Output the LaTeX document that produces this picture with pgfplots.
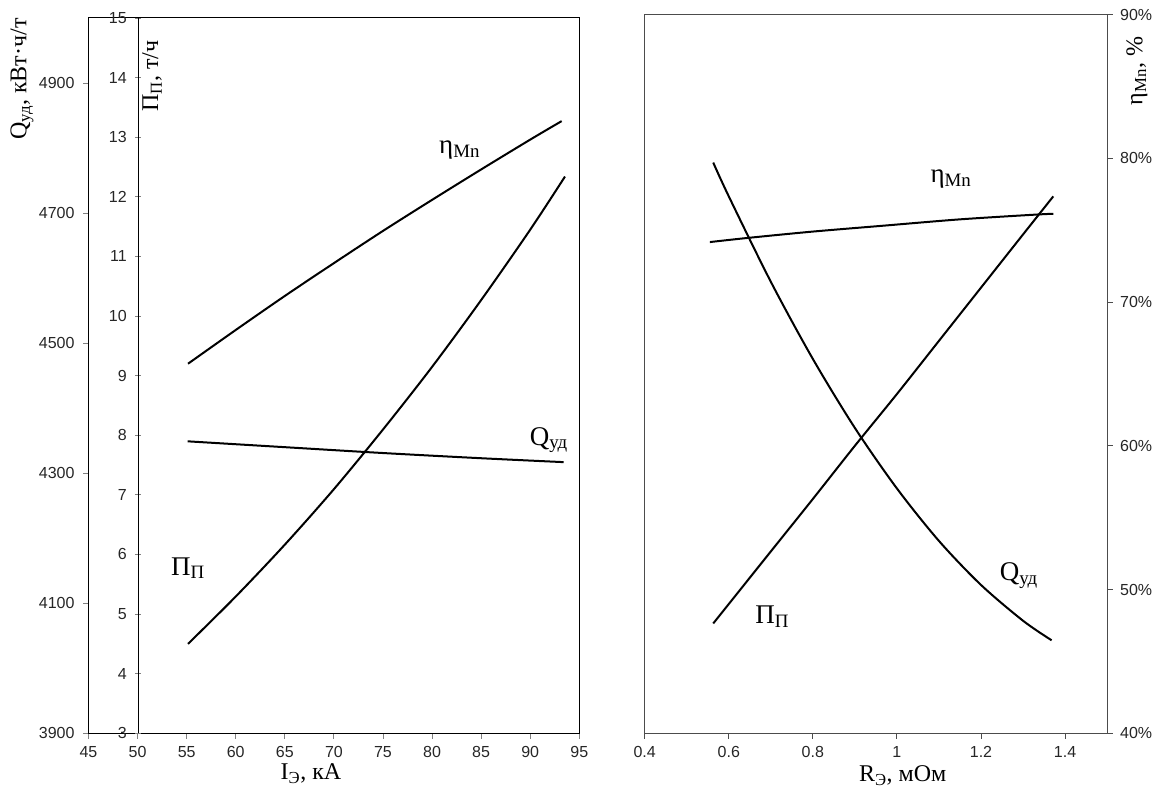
\documentclass[border=0pt]{standalone}
\usepackage{pgfplots}
\pgfplotsset{compat=1.18}
\usepackage{fontspec}
\setmainfont{Liberation Serif}
\newfontfamily\ticksf{Liberation Sans}
\newcommand{\lab}{\fontsize{24}{24}\selectfont}
\newcommand{\inlab}{\fontsize{27}{27}\selectfont}

\pgfplotsset{
  base/.style={
    scale only axis, clip=false, anchor=south west,
    tick align=outside, major tick length=5.5pt,
    tick style={line width=0.9pt},
    axis line style={line width=1pt},
    tick label style={font=\ticksf\fontsize{16}{16}\selectfont, text=black!85},
    /pgf/number format/assume math mode=true,
    /pgf/number format/1000 sep={},
  },
  curve/.style={black, line width=2pt, no markers, smooth},
}

\begin{document}
\begin{tikzpicture}
\path[use as bounding box] (0pt,0pt) rectangle (1161pt,789pt);

% Left panel, outer Q axis
\begin{axis}[base,
  at={(88.5pt,55.7pt)}, width=490.8pt, height=715.3pt,
  xmin=45, xmax=95, ymin=3900, ymax=5000,
  xtick={45,50,...,95}, ytick={3900,4100,...,4900},
  xtick pos=bottom, ytick pos=left,
  axis line style={black},
  xticklabel style={yshift=-4pt},
  yticklabel style={xshift=-5pt},
]
\addplot[curve] coordinates {(55.1,4349) (65,4340) (75,4331) (85,4323) (93.4,4317)};
\node[rotate=90, font=\lab] at (rel axis cs:-0.1355,0.9147) {Q\textsubscript{уд}, кВт·ч/т};
\node[rotate=90, font=\lab] at (rel axis cs:0.1294,0.919) {П\textsubscript{П}, т/ч};
\node[font=\lab] at (rel axis cs:0.4533,-0.056) {I\textsubscript{Э}, кА};
\end{axis}

% Left panel, inner P axis
\begin{axis}[base,
  at={(138pt,55.7pt)}, width=441.3pt, height=715.3pt,
  xmin=50, xmax=95, ymin=3, ymax=15,
  ytick={3,4,...,15},
  axis x line=none, axis y line=left,
  axis line style={-, black},
  yticklabel style={xshift=-5pt},
]
\addplot[curve] coordinates {(55.1,4.50) (60,5.30) (65,6.17) (70,7.10) (75,8.10) (80,9.15) (85,10.27) (90,11.45) (93.54,12.34)};
\addplot[curve] coordinates {(55.1,9.20) (60,9.77) (65,10.34) (70,10.89) (75,11.43) (80,11.95) (85,12.46) (90,12.96) (93.2,13.27)};
\node[font=\inlab] at (axis cs:82.8,12.79) {η\textsubscript{Mn}};
\node[font=\inlab] at (axis cs:91.9,7.92) {Q\textsubscript{уд}};
\node[font=\inlab] at (axis cs:55.1,5.77) {П\textsubscript{П}};
\end{axis}

% Right panel
\begin{axis}[base,
  at={(644.7pt,55.7pt)}, width=462.4pt, height=718.8pt,
  xmin=0.4, xmax=1.5, ymin=40, ymax=90,
  xtick={0.4,0.6,0.8,1,1.2,1.4}, ytick={40,50,...,90},
  xtick pos=bottom, ytick pos=right,
  axis line style={black!70}, tick style={black!70},
  yticklabel={\pgfmathprintnumber{\tick}\%},
  xticklabel style={yshift=-4pt},
  yticklabel style={xshift=4pt},
]
\addplot[curve] coordinates {(0.563,79.70) (0.6,77.35) (0.7,71.41) (0.8,66.04) (0.9,61.24) (1.0,57.03) (1.1,53.38) (1.2,50.32) (1.3,47.83) (1.368,46.47)};
\addplot[curve] coordinates {(0.563,47.64) (0.7,52.65) (0.8,56.3) (0.9,60.0) (1.0,63.6) (1.1,67.3) (1.2,71.0) (1.3,74.7) (1.372,77.35)};
\addplot[curve] coordinates {(0.555,74.17) (0.649,74.47) (0.8,74.9) (0.964,75.3) (1.15,75.75) (1.336,76.09) (1.372,76.13)};
\node[font=\inlab] at (axis cs:1.1286,78.54) {η\textsubscript{Mn}};
\node[font=\inlab] at (axis cs:1.29,50.99) {Q\textsubscript{уд}};
\node[font=\inlab] at (axis cs:0.703,48.14) {П\textsubscript{П}};
\node[rotate=90, font=\lab] at (rel axis cs:1.0647,0.9214) {η\textsubscript{Mn}, \%};
\node[font=\lab] at (rel axis cs:0.558,-0.0594) {R\textsubscript{Э}, мОм};
\end{axis}
\end{tikzpicture}
\end{document}
